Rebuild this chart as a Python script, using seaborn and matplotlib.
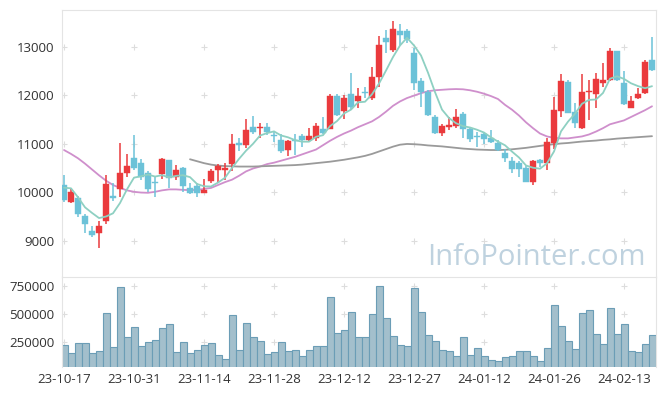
import numpy as np
import pandas as pd
import matplotlib
matplotlib.use("Agg")
import matplotlib.pyplot as plt
import seaborn as sns

dates = ["23-10-17", "23-10-31", "23-11-14", "23-11-28", "23-12-12",
         "23-12-27", "24-01-12", "24-01-26", "24-02-13"]

opens = [10150, 9800, 9880, 9510, 9200, 9160, 9400, 9920, 10060, 10390,
         10710, 10600, 10400, 10220, 10380, 10660, 10320, 10490, 10080, 10130,
         9990, 10240, 10460, 10450, 10580, 11010, 10970, 11340, 11320, 11340,
         11180, 11080, 10870, 11070, 11160, 11080, 11120, 11300, 11310, 11980,
         11680, 12020, 11880, 12060, 11950, 12370, 13180, 12920, 13320, 13310,
         12870, 12290, 12070, 11550, 11230, 11340, 11360, 11620, 11300, 11160,
         11210, 11120, 11020, 10810, 10650, 10610, 10500, 10220, 10660, 10600,
         11020, 11680, 12280, 11660, 11320, 12060, 12020, 12240, 12310, 12900,
         12240, 11740, 11950, 12040, 12720]
highs = [10350, 10090, 9920, 9550, 9310, 9400, 10360, 10190, 11010, 10780,
         11180, 10680, 10440, 10320, 10700, 10670, 10560, 10530, 10200, 10200,
         10270, 10470, 10580, 10600, 11200, 11110, 11510, 11580, 11430, 11420,
         11270, 11200, 11080, 11210, 11210, 11320, 11420, 11540, 12020, 12020,
         12010, 12450, 12140, 12170, 12580, 13210, 13340, 13530, 13470, 13370,
         12960, 12350, 12100, 11590, 11410, 11540, 11710, 11650, 11320, 11250,
         11240, 11280, 11070, 10890, 10730, 10640, 10540, 10670, 10680, 11110,
         11970, 12430, 12310, 11840, 12430, 12310, 12460, 12670, 12980, 12910,
         12490, 11990, 12140, 12720, 13190]
lows = [9800, 9790, 9490, 9160, 9070, 8850, 9340, 9820, 9900, 10320,
        10460, 10250, 10010, 9910, 10270, 10090, 10250, 10000, 9960, 9900,
        9980, 10190, 10200, 10250, 10440, 10840, 10920, 11190, 11110, 11170,
        11040, 10800, 10750, 10770, 10940, 11060, 11060, 11200, 11300, 11570,
        11500, 11710, 11730, 11950, 11890, 12170, 12870, 12890, 13040, 13080,
        12100, 11760, 11580, 11200, 11160, 11280, 11320, 11110, 11040, 10940,
        10990, 11010, 10840, 10630, 10390, 10320, 10210, 10150, 10530, 10460,
        10900, 11560, 11630, 11320, 11310, 11490, 11730, 12160, 12300, 12300,
        11790, 11740, 11920, 12030, 12490]
closes = [9840, 10010, 9560, 9340, 9130, 9310, 10170, 9890, 10400, 10540,
          10510, 10310, 10070, 10190, 10680, 10290, 10460, 10140, 9990, 9980,
          10050, 10440, 10540, 10490, 10990, 10980, 11280, 11250, 11340, 11240,
          11160, 10860, 11060, 11050, 11080, 11160, 11360, 11230, 11980, 11600,
          11940, 11760, 11980, 12040, 12370, 13040, 13100, 13370, 13230, 13160,
          12250, 12070, 11600, 11230, 11360, 11380, 11540, 11300, 11090, 11130,
          11090, 11040, 10870, 10710, 10480, 10480, 10220, 10640, 10610, 11040,
          11690, 12290, 11640, 11430, 12060, 12090, 12330, 12310, 12900, 12310,
          11820, 11880, 12020, 12680, 12520]

ma5 = [10095, 10082, 9897, 9691, 9576, 9470, 9502, 9568, 9780, 10062,
       10302, 10330, 10366, 10324, 10352, 10308, 10338, 10352, 10312, 10172,
       10124, 10120, 10200, 10300, 10502, 10688, 10856, 10998, 11168, 11218,
       11254, 11170, 11132, 11074, 11042, 11042, 11142, 11176, 11362, 11466,
       11622, 11702, 11852, 11864, 12018, 12238, 12506, 12784, 13022, 13180,
       13022, 12816, 12462, 12062, 11702, 11528, 11422, 11362, 11334, 11288,
       11230, 11130, 11044, 10968, 10838, 10716, 10552, 10506, 10486, 10598,
       10840, 11254, 11454, 11618, 11822, 11902, 11910, 12044, 12338, 12388,
       12334, 12244, 12186, 12142, 12184]
ma20 = [10870, 10790, 10700, 10590, 10470, 10350, 10240, 10150, 10090, 10040,
        10010, 9995, 9990, 10010, 10040, 10060, 10060, 10050, 10045, 10050,
        10070, 10090, 10150, 10210, 10260, 10340, 10430, 10490, 10530, 10580,
        10610, 10650, 10690, 10730, 10780, 10830, 10880, 10970, 11060, 11140,
        11210, 11270, 11340, 11400, 11460, 11550, 11660, 11780, 11870, 11940,
        11990, 12040, 12080, 12100, 12110, 12120, 12125, 12120, 12100, 12070,
        12030, 11980, 11920, 11800, 11700, 11580, 11440, 11320, 11210, 11150,
        11120, 11110, 11110, 11130, 11150, 11190, 11250, 11320, 11400, 11440,
        11480, 11550, 11620, 11690, 11770]
ma60 = [np.nan] * 18 + [
        10680, 10640, 10600, 10570, 10550, 10540, 10535, 10530, 10530, 10530,
        10535, 10540, 10545, 10550, 10555, 10560, 10570, 10585, 10600, 10615,
        10630, 10650, 10670, 10695, 10720, 10750, 10790, 10840, 10890, 10940,
        10980, 10995, 10990, 10980, 10965, 10955, 10945, 10930, 10915, 10900,
        10890, 10880, 10875, 10870, 10870, 10875, 10885, 10900, 10915, 10935,
        10955, 10975, 10990, 11005, 11015, 11030, 11045, 11055, 11065, 11080,
        11090, 11105, 11115, 11125, 11135, 11145, 11155]

volumes = [223000, 152000, 241000, 241000, 152000, 172000, 509000, 205000, 741000, 295000,
           384000, 214000, 253000, 268000, 375000, 411000, 163000, 250000, 152000, 179000,
           223000, 241000, 134000, 98000, 491000, 179000, 420000, 295000, 259000, 143000,
           161000, 250000, 170000, 179000, 125000, 179000, 214000, 214000, 652000, 330000,
           357000, 518000, 295000, 295000, 500000, 750000, 464000, 304000, 223000, 214000,
           732000, 518000, 312000, 259000, 179000, 170000, 125000, 295000, 134000, 196000,
           125000, 89000, 80000, 116000, 125000, 170000, 170000, 125000, 80000, 196000,
           580000, 393000, 259000, 188000, 509000, 536000, 321000, 232000, 554000, 321000,
           411000, 170000, 161000, 232000, 312000]

df = pd.DataFrame({"i": np.arange(len(closes)), "open": opens, "high": highs,
                   "low": lows, "close": closes, "ma5": ma5, "ma20": ma20,
                   "ma60": ma60, "volume": volumes})

sns.set_style("white")
plt.rcParams["font.family"] = ["Open Sans", "DejaVu Sans"]

UP = "#ea3a3d"
DOWN = "#6cc2d8"
GRID = "#dddddd"
EDGE = "#e4e4e4"

fig = plt.figure(figsize=(6.65, 3.96), dpi=100)
ax = fig.add_axes([61.5 / 665, 1 - 277 / 396, 594 / 665, 267 / 396])
axv = fig.add_axes([61.5 / 665, 1 - 367 / 396, 594 / 665, 90 / 396], sharex=ax)

xticks = np.arange(0, 85, 10)

# grid crosses at tick positions
for a, yt in ((ax, [9000, 10000, 11000, 12000, 13000]), (axv, [250000, 500000, 750000])):
    gx, gy = np.meshgrid(xticks, yt)
    a.scatter(gx.ravel(), gy.ravel(), marker="+", s=18, color=GRID, linewidths=0.8, zorder=0)

# moving averages
sns.lineplot(data=df, x="i", y="ma20", ax=ax, color="#cf8fcc", lw=1.3, zorder=2)
sns.lineplot(data=df, x="i", y="ma60", ax=ax, color="#9a9a9a", lw=1.3, zorder=2)
sns.lineplot(data=df, x="i", y="ma5", ax=ax, color="#8ed0c2", lw=1.3, zorder=4)

# candles
colors = [UP if c >= o else DOWN for o, c in zip(df["open"], df["close"])]
ax.vlines(df["i"], df["low"], df["high"], colors=colors, lw=1.1, zorder=3)
bottoms = np.minimum(df["open"], df["close"])
heights = np.maximum(np.abs(df["close"] - df["open"]), 25)
ax.bar(df["i"], heights, bottom=bottoms, width=0.78, color=colors,
       edgecolor=colors, linewidth=0.3, zorder=3)

ax.text(0.8, 0.072, "InfoPointer.com", transform=ax.transAxes, ha="center",
        va="center", fontsize=21, color="#bfd2df", zorder=1)

ax.set_xlim(-0.36, 84.5)
ax.set_ylim(8257, 13752)
ax.set_yticks([9000, 10000, 11000, 12000, 13000])
ax.set_xlabel("")
ax.set_ylabel("")
ax.tick_params(axis="x", labelbottom=False, length=0)
ax.tick_params(axis="y", length=0, pad=5, labelsize=9.5, labelcolor="#333333")
for s in ("left", "top", "right"):
    ax.spines[s].set_color(EDGE)
ax.spines["bottom"].set_visible(False)

# volume
sns.barplot(data=df, x="i", y="volume", ax=axv, native_scale=True, width=1.0,
            color="#9cc1d3", edgecolor="#6b9db6", linewidth=0.8,
            zorder=2, errorbar=None)
axv.set_ylim(29000, 833000)
axv.set_yticks([250000, 500000, 750000])
axv.set_yticklabels(["250000", "500000", "750000"])
axv.set_xticks(xticks)
axv.set_xticklabels(dates)
axv.set_xlim(-0.36, 84.5)
axv.set_xlabel("")
axv.set_ylabel("")
axv.tick_params(length=0, labelsize=9.5, labelcolor="#333333")
axv.tick_params(axis="y", pad=5)
axv.tick_params(axis="x", pad=4)
for s in ("left", "top", "right"):
    axv.spines[s].set_color(EDGE)
axv.spines["bottom"].set_visible(False)

fig.savefig("out.png", dpi=100)
